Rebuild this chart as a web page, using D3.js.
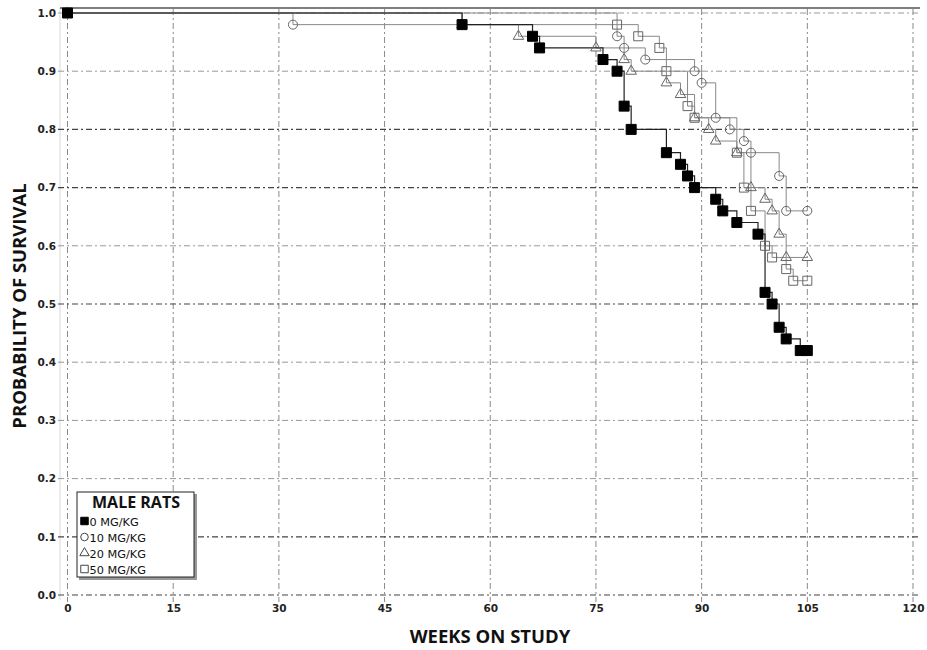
<!DOCTYPE html>
<html><head><meta charset="utf-8">
<script src="https://cdn.jsdelivr.net/npm/d3@7"></script>
<style>body{margin:0;background:#fff}svg{display:block}</style>
</head><body><div id="c"></div>
<script>
// ---- data ----
const xTicks = [0,15,30,45,60,75,90,105,120];
const yTicks = [0,0.1,0.2,0.3,0.4,0.5,0.6,0.7,0.8,0.9,1.0];
const darkGridY = [0,0.1,0.5,0.7,0.8];

const weeks0 = [0,56,66,67,76,78,79,80,85,87,88,89,92,93,95,98,99,100,101,102,104,105];
const surv0  = [1,0.98,0.96,0.94,0.92,0.90,0.84,0.80,0.76,0.74,0.72,0.70,0.68,0.66,0.64,0.62,0.52,0.50,0.46,0.44,0.42,0.42];

const weeks10 = [0,32,78,79,82,89,90,92,94,96,97,101,102,105];
const surv10  = [1,0.98,0.96,0.94,0.92,0.90,0.88,0.82,0.80,0.78,0.76,0.72,0.66,0.66];

const weeks20 = [0,56,64,75,79,80,85,87,89,91,92,95,97,99,100,101,102,105];
const surv20  = [1,0.98,0.96,0.94,0.92,0.90,0.88,0.86,0.82,0.80,0.78,0.76,0.70,0.68,0.66,0.62,0.58,0.58];

const weeks50 = [0,78,81,84,85,88,89,95,96,97,99,100,102,103,105];
const surv50  = [1,0.98,0.96,0.94,0.90,0.84,0.82,0.76,0.70,0.66,0.60,0.58,0.56,0.54,0.54];

const legendTitle = "MALE RATS";
const legendLabels = ["0 MG/KG","10 MG/KG","20 MG/KG","50 MG/KG"];

// ---- chart ----
const W = 927, H = 650;
const svg = d3.select("#c").append("svg").attr("width", W).attr("height", H);
const x = d3.scaleLinear().domain([0,120]).range([67.5,913]);
const y = d3.scaleLinear().domain([0,1]).range([595,13]);

// frame lines
svg.append("line").attr("x1",60).attr("x2",60).attr("y1",8).attr("y2",600)
  .attr("stroke","#d8d8d8").attr("stroke-width",1);
svg.append("line").attr("x1",60).attr("x2",920).attr("y1",8).attr("y2",8)
  .attr("stroke","#555").attr("stroke-width",1.5);

// grid
svg.append("g").selectAll("line").data(xTicks).join("line")
  .attr("x1",d=>x(d)).attr("x2",d=>x(d)).attr("y1",9).attr("y2",602)
  .attr("stroke","#888").attr("stroke-width",1).attr("stroke-dasharray","6,3,2,3");
svg.append("g").selectAll("line").data(yTicks).join("line")
  .attr("x1",58).attr("x2",920).attr("y1",d=>y(d)).attr("y2",d=>y(d))
  .attr("stroke",d=>darkGridY.some(v=>Math.abs(v-d)<1e-9)?"#444":"#999")
  .attr("stroke-width",d=>darkGridY.some(v=>Math.abs(v-d)<1e-9)?1.2:1)
  .attr("stroke-dasharray","6,3,2,3");

// axes labels
const yAxis = d3.axisLeft(y).tickValues(yTicks).tickFormat(d3.format(".1f")).tickSize(0).tickPadding(0);
const gy = svg.append("g").attr("transform","translate(56,0)").call(yAxis);
gy.select(".domain").remove();
gy.selectAll("text").attr("font-family","DejaVu Sans").attr("font-weight","bold")
  .attr("font-size",10.5).attr("fill","#222");

const xAxis = d3.axisBottom(x).tickValues(xTicks).tickFormat(d3.format("d")).tickSize(0).tickPadding(0);
const gx = svg.append("g").attr("transform","translate(0,605)").call(xAxis);
gx.select(".domain").remove();
gx.selectAll("text").attr("font-family","DejaVu Sans").attr("font-weight","bold")
  .attr("font-size",10.5).attr("fill","#222");

svg.append("text").attr("x",490).attr("y",643).attr("text-anchor","middle")
  .attr("font-family","Open Sans").attr("font-weight","bold").attr("font-size",18.5)
  .attr("fill","#111").text("WEEKS ON STUDY");
svg.append("text").attr("transform","translate(26,306) rotate(-90)").attr("text-anchor","middle")
  .attr("font-family","Open Sans").attr("font-weight","bold").attr("font-size",18.5)
  .attr("fill","#111").text("PROBABILITY OF SURVIVAL");

// series
const groups = [
  {w:weeks20, s:surv20, sym:d3.symbolTriangle, size:48, fill:"none", stroke:"#666", line:"#888", lw:1},
  {w:weeks10, s:surv10, sym:d3.symbolCircle, size:64, fill:"none", stroke:"#666", line:"#888", lw:1},
  {w:weeks50, s:surv50, sym:d3.symbolSquare, size:81, fill:"none", stroke:"#666", line:"#888", lw:1},
  {w:weeks0, s:surv0, sym:d3.symbolSquare, size:100, fill:"#000", stroke:"#000", line:"#222", lw:1.2}
];
const lineGen = d3.line().x(d=>x(d[0])).y(d=>y(d[1])).curve(d3.curveStepAfter);
groups.forEach(g=>{
  const pts = g.w.map((w,i)=>[w,g.s[i]]);
  svg.append("path").datum(pts).attr("d",lineGen).attr("fill","none")
    .attr("stroke",g.line).attr("stroke-width",g.lw);
});
groups.forEach(g=>{
  const pts = g.w.map((w,i)=>[w,g.s[i]]);
  svg.append("g").selectAll("path").data(pts).join("path")
    .attr("transform",d=>`translate(${x(d[0])},${y(d[1])})`)
    .attr("d",d3.symbol().type(g.sym).size(g.size))
    .attr("fill",g.fill).attr("stroke",g.stroke).attr("stroke-width",1);
});

// legend
const lg = svg.append("g");
lg.append("rect").attr("x",79).attr("y",494).attr("width",118).attr("height",86).attr("fill","#999");
lg.append("rect").attr("x",77).attr("y",492).attr("width",117).attr("height",85)
  .attr("fill","#fff").attr("stroke","#222").attr("stroke-width",1);
lg.append("text").attr("x",136).attr("y",508).attr("text-anchor","middle")
  .attr("font-family","Open Sans").attr("font-weight","bold").attr("font-size",16)
  .attr("fill","#111").text(legendTitle);
const legSyms = [
  {sym:d3.symbolSquare,size:56,fill:"#000",stroke:"#000"},
  {sym:d3.symbolCircle,size:45,fill:"none",stroke:"#444"},
  {sym:d3.symbolTriangle,size:38,fill:"none",stroke:"#444"},
  {sym:d3.symbolSquare,size:56,fill:"none",stroke:"#444"}
];
legendLabels.forEach((lab,i)=>{
  const yy = 526 + i*16;
  lg.append("path").attr("transform",`translate(84.5,${yy-5})`)
    .attr("d",d3.symbol().type(legSyms[i].sym).size(legSyms[i].size))
    .attr("fill",legSyms[i].fill).attr("stroke",legSyms[i].stroke).attr("stroke-width",1);
  lg.append("text").attr("x",89.5).attr("y",yy).attr("font-family","DejaVu Sans")
    .attr("font-size",11.3).attr("fill","#111").text(lab);
});
</script></body></html>
